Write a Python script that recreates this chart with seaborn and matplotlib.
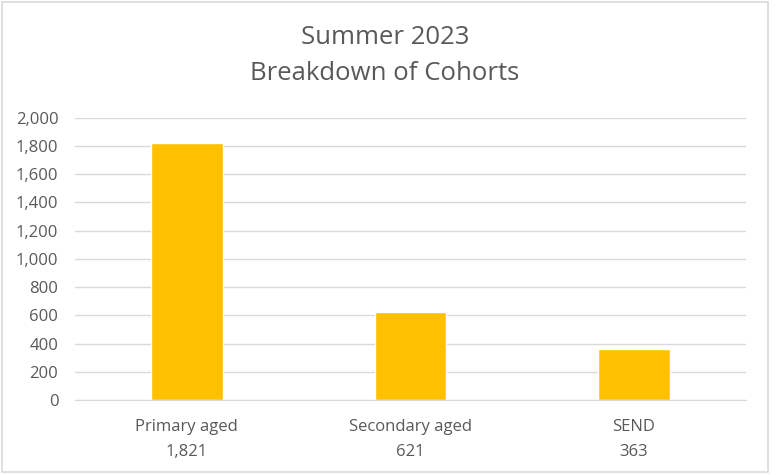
import numpy as np
import pandas as pd
import seaborn as sns
import matplotlib.pyplot as plt
from matplotlib.patches import Rectangle

# data
cohorts = ["Primary aged", "Secondary aged", "SEND"]
pupils = [1821, 621, 363]
labels = [f"{c}\n{v:,}" for c, v in zip(cohorts, pupils)]

df = pd.DataFrame({"label": labels, "pupils": pupils})

sns.set_style("white")
plt.rcParams["font.family"] = ["Open Sans", "DejaVu Sans"]

fig = plt.figure(figsize=(7.76, 4.75), dpi=100)
ax = fig.add_axes([0.0967, 0.158, 0.864, 0.594])

sns.barplot(data=df, x="label", y="pupils", color="#FFC000", saturation=1,
            width=0.32, ax=ax)

ax.set_ylim(0, 2000)
ax.set_yticks(np.arange(0, 2001, 200))
ax.set_yticklabels([f"{int(t):,}" for t in ax.get_yticks()])
ax.set_xlim(-0.5, 2.5)
ax.yaxis.grid(True, color="#d9d9d9", linewidth=1)
ax.set_axisbelow(True)
for s in ["top", "right", "left"]:
    ax.spines[s].set_visible(False)
ax.spines["bottom"].set_color("#d9d9d9")
ax.tick_params(axis="both", length=0, colors="#595959", labelsize=12)
ax.tick_params(axis="x", pad=14)
ax.tick_params(axis="y", pad=12)
for t in ax.get_xticklabels():
    t.set_linespacing(1.75)
ax.set_xlabel("")
ax.set_ylabel("")

fig.text(0.496, 0.92, "Summer 2023", ha="center", va="center",
         fontsize=18.5, color="#595959")
fig.text(0.496, 0.846, "Breakdown of Cohorts", ha="center", va="center",
         fontsize=18.5, color="#595959")

fig.patches.append(Rectangle((0.002, 0.006), 0.988, 0.99, transform=fig.transFigure,
                             fill=False, edgecolor="#d9d9d9", linewidth=1.2))

fig.savefig("out.png", dpi=100)
